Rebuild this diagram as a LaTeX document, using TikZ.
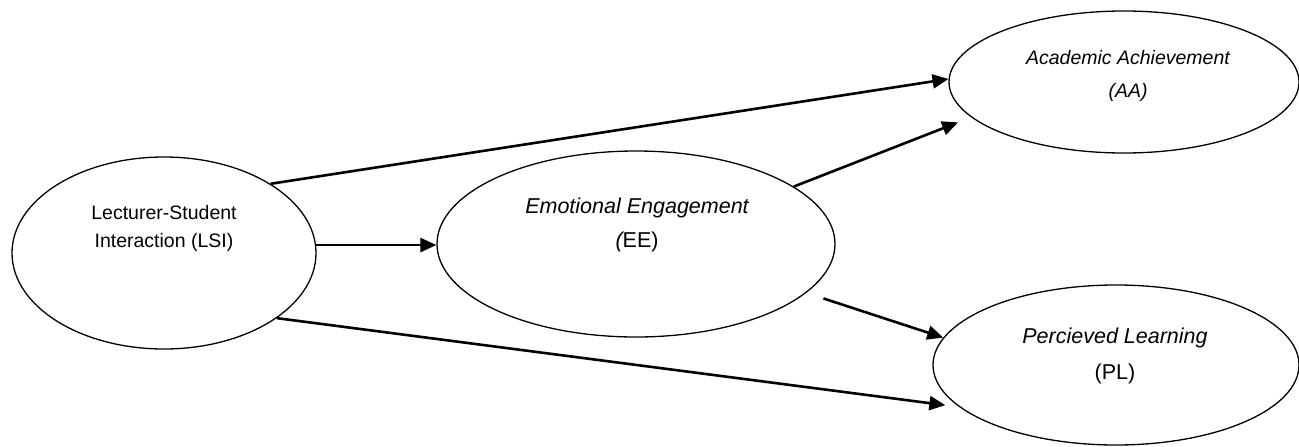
\documentclass[tikz,border=0pt]{standalone}
\usepackage{fontspec}
\setmainfont{Liberation Sans}
\usetikzlibrary{shapes.geometric,arrows.meta}
\begin{document}
\begin{tikzpicture}[x=1pt,y=-1pt,
  oval/.style={draw,ellipse,line width=1.3pt,inner sep=0pt},
  lbl/.style={anchor=base,inner sep=0pt},
  smallf/.style={font=\fontsize{19.5}{24}\selectfont},
  bigf/.style={font=\fontsize{21.5}{26}\selectfont},
  link/.style={line width=2.6pt,-{Triangle[length=16pt,width=14pt]}}]
\useasboundingbox[fill=white] (0,0) rectangle (1299,447);
% ellipses
\node[oval,minimum width=304pt,minimum height=192pt] (LSI) at (164,253) {};
\node[oval,minimum width=398pt,minimum height=186pt] (EE) at (636,244) {};
\node[oval,minimum width=350pt,minimum height=142pt] (AA) at (1124,82) {};
\node[oval,minimum width=366pt,minimum height=160pt] (PL) at (1116,365) {};
% labels
\node[lbl,smallf] (LSIa) at (164,219) {Lecturer-Student};
\node[lbl,smallf] (LSIb) at (164,247) {Interaction (LSI)};
\node[lbl,bigf] (EEa) at (637,213) {\itshape Emotional Engagement};
\node[lbl,bigf] (EEb) at (637,247) {{\itshape (}EE)};
\node[lbl,smallf] (AAa) at (1128,64) {\itshape Academic Achievement};
\node[lbl,smallf] (AAb) at (1128,97) {\itshape (AA)};
\node[lbl,bigf] (PLa) at (1115,343) {\itshape Percieved Learning};
\node[lbl,bigf] (PLb) at (1115,379) {(PL)};
% connectors
\draw[link] (LSI.33.3) -- (AA.179.3);
\draw[link] (LSI.3) -- (LSI.3 -| EE.west);
\draw[link] (LSI.-30.9) -- (PL.195.5) [shorten >=14pt];
\draw[link,shorten >=14pt] (EE.20.7) -- (AA.193.5);
\draw[link,shorten <=18pt] (EE.-16.8) -- (PL.171.8);
\end{tikzpicture}
\end{document}
